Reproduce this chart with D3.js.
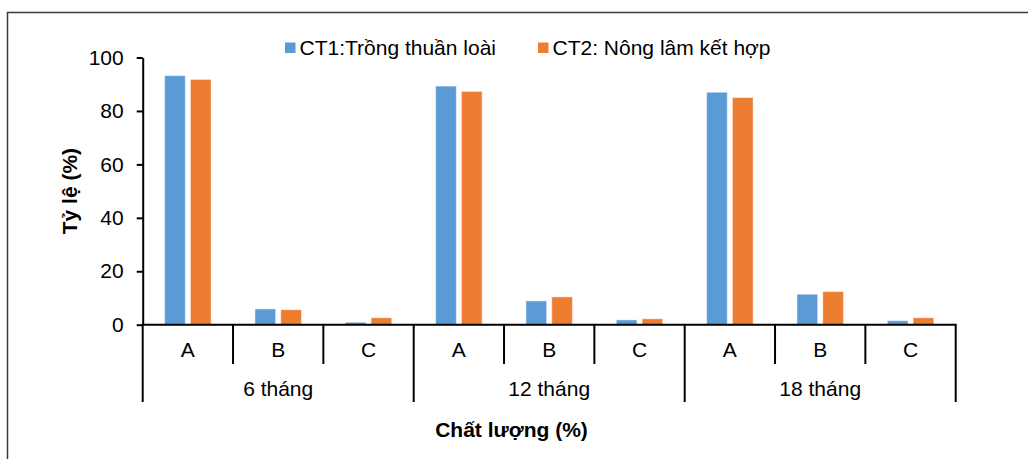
<!DOCTYPE html>
<html>
<head>
<meta charset="utf-8">
<script src="https://cdn.jsdelivr.net/npm/d3@7"></script>
<style>
  html, body { margin: 0; padding: 0; background: #fff; }
  svg { display: block; font-family: "Liberation Sans", Arial, sans-serif; }
</style>
</head>
<body>
<svg id="chart" width="1028" height="459"></svg>
<script>
// Survey periods and quality grades
const periods = ["6 tháng", "12 tháng", "18 tháng"];
const grades = ["A", "B", "C"];

// Share of trees per grade (%), listed period by period: A, B, C
const ct1Values = [93.2, 5.9, 0.9, 89.3, 8.9, 1.8, 87.0, 11.4, 1.5];
const ct2Values = [91.8, 5.6, 2.6, 87.3, 10.4, 2.2, 85.0, 12.4, 2.6];

const seriesNames = ["CT1:Trồng thuần loài", "CT2: Nông lâm kết hợp"];
const seriesColors = ["#5B9BD5", "#ED7D31"];

const yTicks = [0, 20, 40, 60, 80, 100];
const yTitle = "Tỷ lệ (%)";
const xTitle = "Chất lượng (%)";

const FS = 21;

const svg = d3.select("#chart");

// Chart frame
svg.append("rect")
  .attr("x", 7.5).attr("y", 12.5)
  .attr("width", 1040).attr("height", 470)
  .attr("fill", "none").attr("stroke", "#3a3a3a").attr("stroke-width", 1.5);

const plot = { left: 142.7, right: 955.7, top: 57.5, bottom: 324.7 };

// Flattened category keys: period|grade
const cats = [];
periods.forEach(p => grades.forEach(g => cats.push(p + "|" + g)));

const x = d3.scaleBand().domain(cats).range([plot.left, plot.right]).padding(0);
const x1 = d3.scaleBand().domain([0, 1]).range([0, x.bandwidth()])
  .paddingInner(0.2).paddingOuter(0.85);
const y = d3.scaleLinear().domain([0, 100]).range([plot.bottom, plot.top]);

// Bars
const rows = cats.map((c, i) => ({ key: c, vals: [ct1Values[i], ct2Values[i]] }));
const groups = svg.append("g").selectAll("g").data(rows).join("g")
  .attr("transform", d => `translate(${x(d.key)},0)`);
groups.selectAll("rect").data(d => d.vals.map((v, s) => ({ v, s }))).join("rect")
  .attr("x", d => x1(d.s))
  .attr("width", x1.bandwidth())
  .attr("y", d => y(d.v))
  .attr("height", d => y(0) - y(d.v))
  .attr("fill", d => seriesColors[d.s])
  .attr("stroke", "#ffffff").attr("stroke-opacity", 0.45).attr("stroke-width", 1);

// Y axis
const yAxis = svg.append("g")
  .attr("transform", `translate(${plot.left},0)`)
  .call(d3.axisLeft(y).tickValues(yTicks).tickSize(6).tickPadding(13).tickSizeOuter(0));
yAxis.select(".domain").attr("stroke", "#000").attr("stroke-width", 2);
yAxis.selectAll(".tick line").attr("stroke", "#000").attr("stroke-width", 2);
yAxis.selectAll(".tick text")
  .attr("font-size", FS).attr("fill", "#000")
  .attr("font-family", "Liberation Sans, Arial, sans-serif");

// X axis baseline
svg.append("line")
  .attr("x1", plot.left - 1).attr("x2", plot.right + 1)
  .attr("y1", y(0)).attr("y2", y(0))
  .attr("stroke", "#000").attr("stroke-width", 2);

// Category separators: short between grades, long between periods
const bounds = d3.range(cats.length + 1);
const xAt = i => i < cats.length ? x(cats[i]) : plot.right;
svg.append("g").selectAll("line").data(bounds).join("line")
  .attr("x1", i => xAt(i)).attr("x2", i => xAt(i))
  .attr("y1", y(0))
  .attr("y2", i => (i % grades.length === 0) ? 402 : 364)
  .attr("stroke", "#000").attr("stroke-width", 2);

// Grade labels
svg.append("g").selectAll("text").data(cats).join("text")
  .attr("x", c => x(c) + x.bandwidth() / 2)
  .attr("y", 357)
  .attr("text-anchor", "middle")
  .attr("font-size", FS).attr("fill", "#000")
  .text(c => c.split("|")[1]);

// Period labels
svg.append("g").selectAll("text").data(periods).join("text")
  .attr("x", (p, i) => (xAt(i * 3) + xAt(i * 3 + 3)) / 2)
  .attr("y", 396)
  .attr("text-anchor", "middle")
  .attr("font-size", FS).attr("fill", "#000")
  .text(p => p);

// Axis titles
svg.append("text")
  .attr("x", 511.5).attr("y", 437)
  .attr("text-anchor", "middle")
  .attr("font-size", FS).attr("font-weight", "bold").attr("fill", "#000")
  .text(xTitle);

svg.append("text")
  .attr("transform", `translate(77,${(plot.top + plot.bottom) / 2}) rotate(-90)`)
  .attr("text-anchor", "middle")
  .attr("font-size", FS).attr("font-weight", "bold").attr("fill", "#000")
  .text(yTitle);

// Legend
const legendPos = [285, 538];
const legend = svg.append("g").selectAll("g").data(seriesNames).join("g")
  .attr("transform", (d, i) => `translate(${legendPos[i]},0)`);
legend.append("rect")
  .attr("x", 0).attr("y", 42.5).attr("width", 10.5).attr("height", 10.5)
  .attr("fill", (d, i) => seriesColors[i]);
legend.append("text")
  .attr("x", 14.5).attr("y", 55)
  .attr("font-size", FS).attr("fill", "#000")
  .text(d => d);
</script>
</body>
</html>
